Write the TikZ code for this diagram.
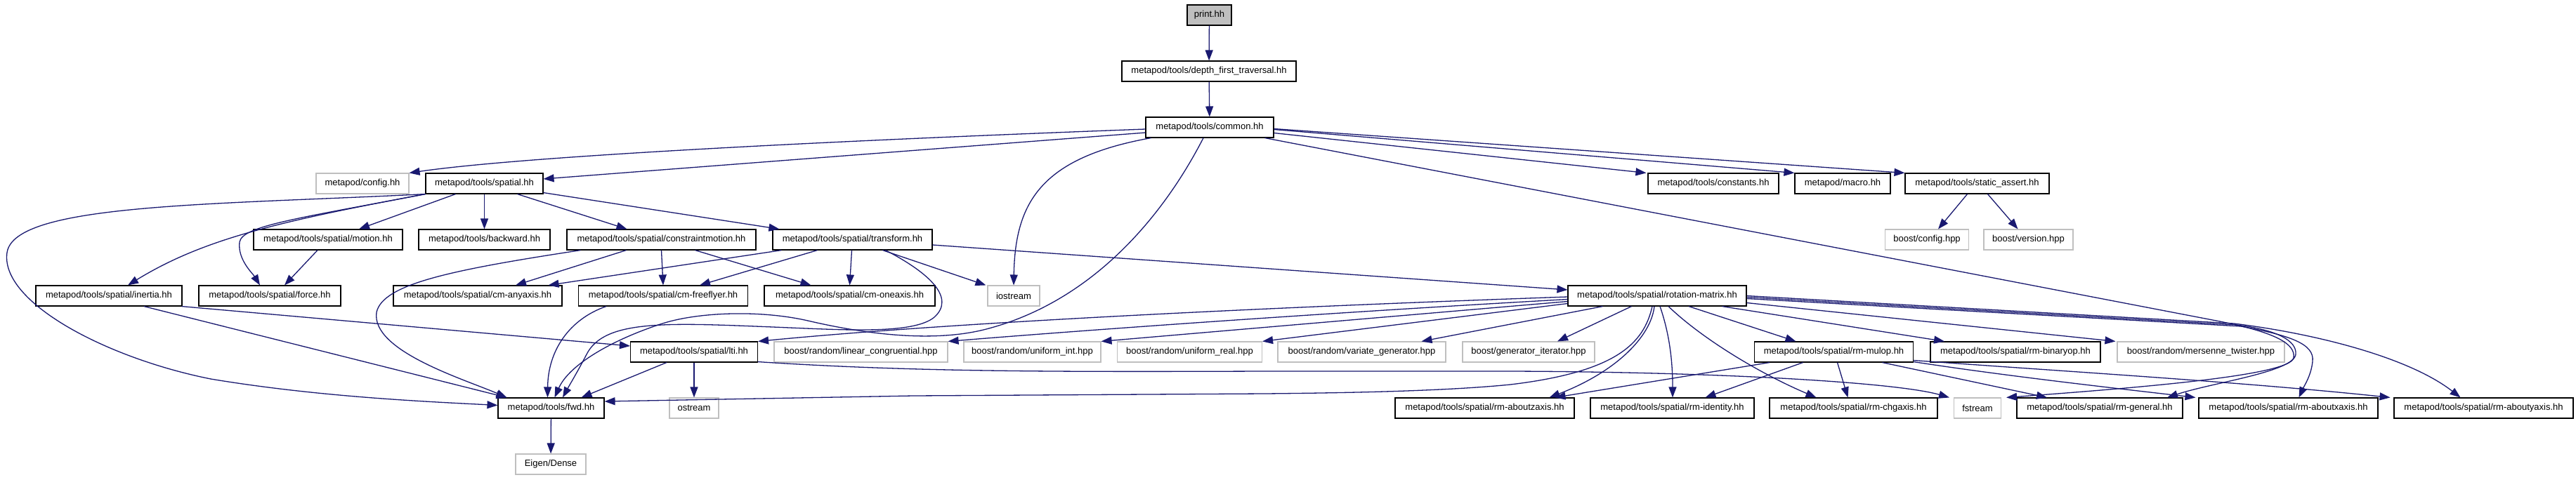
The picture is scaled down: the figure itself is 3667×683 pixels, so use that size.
\documentclass[tikz,border=0pt]{standalone}
\usepackage{fontspec}
\setmainfont{Liberation Sans}
\usetikzlibrary{arrows.meta,calc}
\definecolor{edgec}{HTML}{191970}
\definecolor{extc}{HTML}{BFBFBF}
\begin{document}
\begin{tikzpicture}[x=1pt,y=-1pt,
  nd/.style={draw=black, line width=1.1pt, fill=white, minimum height=29pt, inner sep=0pt, font=\fontsize{13}{15}\selectfont, text=black},
  ext/.style={nd, draw=extc},
  root/.style={nd, fill=extc},
  e/.style={draw=edgec, line width=1.3pt, -{Triangle[length=15pt,width=11pt]}},
]
\useasboundingbox[fill=white] (0,0) rectangle (3667,683);
% rank 0-2
\node[root, minimum width=63pt] (print) at (1721.5,21.5) {print.hh};
\node[nd, minimum width=248pt] (dft) at (1721,101.5) {metapod/tools/depth\_first\_traversal.hh};
\node[nd, minimum width=182pt] (common) at (1722,181.5) {metapod/tools/common.hh};
% rank 3
\node[ext, minimum width=132pt] (config) at (516,261.5) {metapod/config.hh};
\node[nd, minimum width=167pt] (spatial) at (689.5,261.5) {metapod/tools/spatial.hh};
\node[nd, minimum width=186pt] (constants) at (2439,261.5) {metapod/tools/constants.hh};
\node[nd, minimum width=136pt] (macro) at (2623,261.5) {metapod/macro.hh};
\node[nd, minimum width=205pt] (sassert) at (2814.5,261.5) {metapod/tools/static\_assert.hh};
% rank 4
\node[nd, minimum width=212pt] (motion) at (467,341.5) {metapod/tools/spatial/motion.hh};
\node[nd, minimum width=187pt] (backward) at (689.5,341.5) {metapod/tools/backward.hh};
\node[nd, minimum width=269pt] (cmotion) at (941.5,341.5) {metapod/tools/spatial/constraintmotion.hh};
\node[nd, minimum width=227pt] (transform) at (1213.5,341.5) {metapod/tools/spatial/transform.hh};
\node[ext, minimum width=119pt] (bconfig) at (2743,341.5) {boost/config.hpp};
\node[ext, minimum width=127pt] (bversion) at (2887.5,341.5) {boost/version.hpp};
% rank 5
\node[nd, minimum width=208pt] (inertia) at (155,421.5) {metapod/tools/spatial/inertia.hh};
\node[nd, minimum width=202pt] (force) at (384,421.5) {metapod/tools/spatial/force.hh};
\node[nd, minimum width=240pt] (cmany) at (680,421.5) {metapod/tools/spatial/cm-anyaxis.hh};
\node[nd, minimum width=241pt] (cmfree) at (944,421.5) {metapod/tools/spatial/cm-freeflyer.hh};
\node[nd, minimum width=243pt] (cmone) at (1209.5,421.5) {metapod/tools/spatial/cm-oneaxis.hh};
\node[ext, minimum width=74pt] (iostream) at (1443,421.5) {iostream};
\node[nd, minimum width=254pt] (rotm) at (2359,421.5) {metapod/tools/spatial/rotation-matrix.hh};
% rank 6
\node[nd, minimum width=181pt] (lti) at (988,501.5) {metapod/tools/spatial/lti.hh};
\node[ext, minimum width=247pt] (lincong) at (1225.5,501.5) {boost/random/linear\_congruential.hpp};
\node[ext, minimum width=195pt] (uint) at (1469.5,501.5) {boost/random/uniform\_int.hpp};
\node[ext, minimum width=206pt] (ureal) at (1693.5,501.5) {boost/random/uniform\_real.hpp};
\node[ext, minimum width=239pt] (vargen) at (1938.5,501.5) {boost/random/variate\_generator.hpp};
\node[ext, minimum width=188pt] (geniter) at (2176,501.5) {boost/generator\_iterator.hpp};
\node[nd, minimum width=226pt] (mulop) at (2610.5,501.5) {metapod/tools/spatial/rm-mulop.hh};
\node[nd, minimum width=242pt] (binop) at (2869,501.5) {metapod/tools/spatial/rm-binaryop.hh};
\node[ext, minimum width=238pt] (mtwist) at (3133,501.5) {boost/random/mersenne\_twister.hpp};
% rank 7
\node[nd, minimum width=151pt] (fwd) at (784.5,581.5) {metapod/tools/fwd.hh};
\node[ext, minimum width=70pt] (ostream) at (988,581.5) {ostream};
\node[nd, minimum width=255pt] (rmz) at (2113.5,581.5) {metapod/tools/spatial/rm-aboutzaxis.hh};
\node[nd, minimum width=233pt] (rmid) at (2380.5,581.5) {metapod/tools/spatial/rm-identity.hh};
\node[nd, minimum width=239pt] (rmchg) at (2638.5,581.5) {metapod/tools/spatial/rm-chgaxis.hh};
\node[ext, minimum width=67pt] (fstream) at (2815,581.5) {fstream};
\node[nd, minimum width=236pt] (rmgen) at (2989,581.5) {metapod/tools/spatial/rm-general.hh};
\node[nd, minimum width=255pt] (rmx) at (3257.5,581.5) {metapod/tools/spatial/rm-aboutxaxis.hh};
\node[nd, minimum width=255pt] (rmy) at (3535.5,581.5) {metapod/tools/spatial/rm-aboutyaxis.hh};
% rank 8
\node[ext, minimum width=100pt] (eigen) at (784,661.5) {Eigen/Dense};

% ---- edges ----
\draw[e] (print) -- (dft);
\draw[e] (dft) -- (common);
\draw[e] ($(common.west)+(0,2.5)$) .. controls (1200,200) and (750,222) .. (config.north east);
\draw[e] ($(common.west)+(0,7.5)$) -- ($(spatial.east)+(0,-6.5)$);
\draw[e] ($(common.east)+(0,8)$) -- ($(constants.north west)+(-2,0)$);
\draw[e] ($(common.east)+(0,3)$) -- (macro.north west);
\draw[e] ($(common.east)+(0,2)$) -- (sassert.north west);
\draw[e] ($(common.south west)+(8,0)$) .. controls (1480,225) and (1445,290) .. (iostream.north);
\draw[e] ($(common.south)+(-9,0)$) .. controls (1660,300) and (1560,430) .. (1400,470)
   .. controls (1330,487) and (1240,478) .. (1150,457)
   .. controls (1080,441) and (990,445) .. (940,462)
   .. controls (870,485) and (810,520) .. ($(fwd.north)+(5,0)$);
\draw[e] ($(common.south east)+(-13,0)$) -- (3160,458)
   .. controls (3240,474) and (3268,490) .. (3265,510)
   .. controls (3260,535) and (3050,552) .. ($(fstream.north east)+(7,0)$);
\draw[e] ($(sassert.south)+(-14,0)$) -- ($(bconfig.north)+(16,0)$);
\draw[e] ($(sassert.south)+(15,0)$) -- ($(bversion.north)+(-15,0)$);

% spatial.hh
\draw[e] (spatial.south west) .. controls (300,292) and (20,290) .. (10,360)
   .. controls (0,430) and (150,510) .. (300,540)
   .. controls (450,565) and (600,572) .. ($(fwd.west)+(0,-4)$);
\draw[e] (spatial.south west) .. controls (400,315) and (290,340) .. ($(inertia.north)+(27,0)$);
\draw[e] (spatial.south west) .. controls (420,312) and (345,322) .. (341,345)
   .. controls (338,370) and (360,390) .. ($(force.north)+(-14,0)$);
\draw[e] ($(spatial.south)+(-41,0)$) -- ($(motion.north)+(44,0)$);
\draw[e] (spatial.south) -- (backward.north);
\draw[e] ($(spatial.south)+(47,0)$) -- ($(cmotion.north)+(-49,0)$);
\draw[e] ($(spatial.south east)+(0,-2)$) -- ($(transform.north west)+(10,0)$);
\draw[e] ($(motion.south)+(-15,0)$) -- ($(force.north)+(21,0)$);

% constraintmotion
\draw[e] ($(cmotion.south west)+(20,0)$) .. controls (640,385) and (545,405) .. (536,445)
   .. controls (528,500) and (660,540) .. ($(fwd.north west)+(13,0)$);
\draw[e] ($(cmotion.south west)+(85,0)$) -- ($(cmany.north)+(54,0)$);
\draw[e] (cmotion.south) -- (cmfree.north);
\draw[e] ($(cmotion.south)+(48,0)$) -- ($(cmone.north)+(-55,0)$);

% transform
\draw[e] ($(transform.south west)+(13,0)$) -- ($(cmany.north east)+(-20,0)$);
\draw[e] ($(transform.south)+(-50,0)$) -- ($(cmfree.north)+(52,0)$);
\draw[e] ($(transform.south)+(-1,0)$) -- (cmone.north);
\draw[e] ($(transform.south)+(43,0)$) -- ($(iostream.north west)+(-2,0)$);
\draw[e] ($(transform.south)+(47,0)$) .. controls (1325,390) and (1360,425) .. (1330,452)
   .. controls (1300,477) and (1200,470) .. (1100,466)
   .. controls (950,460) and (860,455) .. (835,505)
   .. controls (822,530) and (810,550) .. ($(fwd.north)+(16.5,0)$);
\draw[e] ($(transform.east)+(0,7.5)$) -- ($(rotm.west)+(0,-8.5)$);

% inertia, cm-freeflyer, lti
\draw[e] ($(inertia.south)+(50,0)$) -- ($(fwd.north west)+(13,0)$);
\draw[e] ($(inertia.south east)+(-1,0)$) -- ($(lti.west)+(0,-8.5)$);
\draw[e] ($(cmfree.south west)+(40,0)$) .. controls (810,455) and (780,500) .. ($(fwd.north)+(-5,0)$);
\draw[e] ($(lti.south west)+(52,0)$) -- ($(fwd.north east)+(-33,0)$);
\draw[e] (lti) -- (ostream);
\draw[e] ($(lti.south east)+(0,-1)$) .. controls (1300,530) and (1500,530) .. (1800,529)
   -- (2150,529) .. controls (2450,530) and (2700,545) .. ($(fstream.north west)+(-6,0)$);
\draw[e] (fwd) -- (eigen);

% rotation-matrix
\draw[e] ($(rotm.west)+(0,1.5)$) .. controls (1800,438) and (1350,460) .. (lti.north east);
\draw[e] ($(rotm.west)+(0,5)$) .. controls (1900,445) and (1550,470) .. (lincong.north east);
\draw[e] ($(rotm.west)+(0,8)$) -- (uint.north east);
\draw[e] ($(rotm.west)+(0,11)$) -- (ureal.north east);
\draw[e] ($(rotm.south west)+(50,0)$) -- ($(vargen.north)+(85,0)$);
\draw[e] ($(rotm.south west)+(91,0)$) -- ($(geniter.north)+(41,0)$);
\draw[e] ($(rotm.south)+(-7,0)$) .. controls (2340,490) and (2300,530) .. (2150,548)
   .. controls (2050,558) and (1900,560) .. (1800,561)
   -- (1300,564) -- ($(fwd.east)+(0,-9.5)$);
\draw[e] ($(rotm.south)+(-4,0)$) .. controls (2350,480) and (2300,530) .. ($(rmz.north)+(92,0)$);
\draw[e] ($(rotm.south)+(4,0)$) .. controls (2378,480) and (2381,520) .. ($(rmid.north)+(0.5,0)$);
\draw[e] ($(rotm.south)+(16,0)$) .. controls (2420,480) and (2500,530) .. ($(rmchg.north)+(-53,0)$);
\draw[e] ($(rotm.south)+(45,0)$) -- ($(mulop.north)+(-54,0)$);
\draw[e] ($(rotm.south east)+(-35,0)$) -- ($(binop.north)+(-101,0)$);
\draw[e] ($(rotm.east)+(0,10)$) -- ($(mtwist.north west)+(-2,0)$);
\draw[e] ($(rotm.east)+(0,2)$) -- (3184,463)
   .. controls (3240,470) and (3270,485) .. (3268,505)
   .. controls (3265,530) and (3150,545) .. ($(rmgen.north)+(96,0)$);
\draw[e] ($(rotm.east)+(0,4)$) -- (3190,465)
   .. controls (3260,478) and (3295,490) .. (3292,515)
   .. controls (3290,535) and (3280,550) .. ($(rmx.north)+(15,0)$);
\draw[e] ($(rotm.east)+(0,0)$) -- (3180,461)
   .. controls (3300,476) and (3430,510) .. ($(rmy.north)+(-33,0)$);

% rm-mulop
\draw[e] ($(mulop.south west)+(22,0)$) -- ($(rmz.north)+(100,0)$);
\draw[e] ($(mulop.south)+(-44,0)$) -- ($(rmid.north)+(47,0)$);
\draw[e] ($(mulop.south)+(5,0)$) -- ($(rmchg.north)+(-8,0)$);
\draw[e] ($(mulop.south)+(69,0)$) -- ($(rmgen.north)+(-75,0)$);
\draw[e] ($(mulop.south east)+(0,-1)$) .. controls (2850,535) and (3000,552) .. ($(rmx.north west)+(-4,0)$);
\draw[e] ($(mulop.east)+(0,12)$) .. controls (2950,530) and (3200,545) .. ($(rmy.north west)+(-5,0)$);
\end{tikzpicture}
\end{document}
